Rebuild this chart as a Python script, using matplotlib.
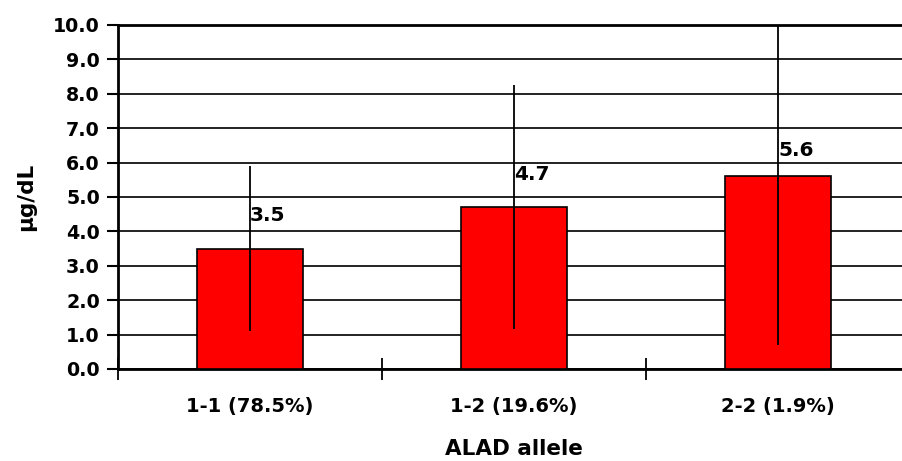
import matplotlib.pyplot as plt

# Mean blood lead by ALAD genotype, with spread
categories = ["1-1 (78.5%)", "1-2 (19.6%)", "2-2 (1.9%)"]
means = [3.5, 4.7, 5.6]
spread = [2.4, 3.55, 4.9]
y_ticks = [0.0, 1.0, 2.0, 3.0, 4.0, 5.0, 6.0, 7.0, 8.0, 9.0, 10.0]


def main():
    plt.rcParams["font.family"] = ["DejaVu Sans"]
    plt.rcParams["font.weight"] = "bold"

    fig = plt.figure(figsize=(9.02, 4.61), dpi=100)
    ax = fig.add_axes([0.1308, 0.1996, 0.878, 0.7462])

    x = list(range(len(categories)))
    ax.bar(x, means, width=0.4, color="#ff0000", edgecolor="black",
           linewidth=1.2, zorder=3)
    ax.errorbar(x, means, yerr=spread, fmt="none", ecolor="black",
                elinewidth=1.3, capsize=0, zorder=4)

    # value labels sit just right of each error line
    gaps = [17, 17, 12]
    for xi, m, g in zip(x, means, gaps):
        ax.annotate(f"{m:.1f}", (xi, m), xytext=(0, g),
                    textcoords="offset points", ha="left", va="bottom",
                    fontsize=14.5, fontweight="bold", zorder=5)

    ax.set_xlim(-0.5, len(categories) - 0.5)
    ax.set_ylim(0, 10)
    ax.set_yticks(y_ticks)
    ax.set_yticklabels([f"{v:.1f}" for v in y_ticks], fontsize=13.7,
                       fontweight="bold")
    ax.tick_params(axis="y", direction="out", length=8, width=1.5, pad=5)

    ax.set_xticks(x)
    ax.set_xticklabels(categories, fontsize=14, fontweight="bold")
    ax.tick_params(axis="x", which="major", length=0, pad=20)
    ax.set_xticks([i + 0.5 for i in range(-1, len(categories))], minor=True)
    ax.tick_params(axis="x", which="minor", direction="inout", length=16,
                   width=1.3)

    ax.yaxis.grid(True, color="#222222", linewidth=1.4, zorder=0)
    ax.set_axisbelow(True)
    for side in ["left", "bottom", "top"]:
        ax.spines[side].set_linewidth(2)
    ax.spines["right"].set_visible(False)

    ax.set_xlabel("ALAD allele", fontsize=15.5, fontweight="bold", labelpad=17)
    ax.set_ylabel("µg/dL", fontsize=15.5, fontweight="bold", labelpad=12)

    fig.savefig("out.png", dpi=100)


if __name__ == "__main__":
    main()
